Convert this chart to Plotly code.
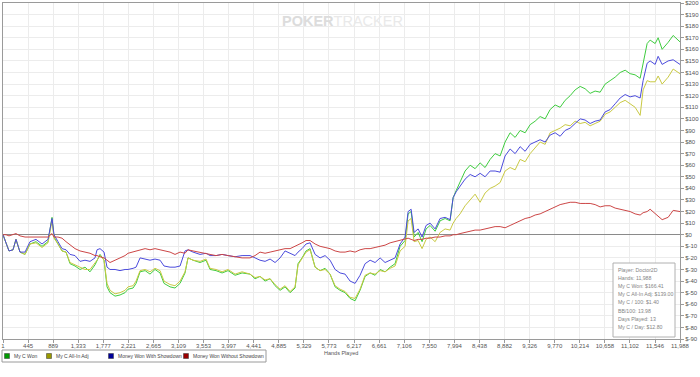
import plotly.graph_objects as go

# ---------------- data ----------------
hands = [1, 54, 107, 178, 231, 302, 391, 479, 585, 692, 798, 869, 904, 975, 1046, 1117,
         1188, 1276, 1365, 1453, 1542, 1630, 1666, 1719, 1790, 1843, 1896, 1985, 2073, 2162,
         2215, 2304, 2357, 2428, 2517, 2604, 2693, 2782, 2852, 2959, 3047, 3136, 3224, 3277,
         3366, 3490, 3596, 3667, 3773, 3880, 3986, 4110, 4234, 4375,
         4464, 4552, 4641, 4730, 4818, 4907, 4995, 5084, 5172, 5225, 5296, 5367, 5438, 5527,
         5615, 5704, 5792, 5881, 5969, 6058, 6146, 6235, 6323, 6412, 6501, 6589, 6678, 6766,
         6855, 6943, 7032, 7120, 7174, 7227, 7280, 7351, 7421, 7492, 7563, 7652, 7740, 7829,
         7917, 7971, 8024, 8094, 8183, 8272, 8360, 8449, 8537, 8626, 8714, 8803, 8891, 8980,
         9069, 9157, 9246, 9334, 9423, 9511, 9600, 9688, 9777, 9866, 9954, 10043, 10131, 10220,
         10308, 10397, 10485, 10574, 10662, 10751, 10840, 10928, 11017, 11105, 11193, 11282,
         11335, 11406, 11459, 11548, 11601, 11672, 11778, 11867, 11988]

my_c_won = [0, -8, -14, -13, -4, -15, -17, -8, -6, -10, -6, 15, -2, -8, -14, -15,
            -25, -27, -30, -28, -32, -26, -22, -17, -22, -45, -50, -53, -52, -50,
            -47, -46, -42, -32, -31, -34, -30, -33, -42, -45, -46, -42, -33, -20,
            -22, -24, -22, -30, -31, -33, -31, -35, -33, -34,
            -38, -36, -40, -38, -44, -48, -45, -50, -46, -25, -20, -14, -12, -28,
            -31, -29, -34, -45, -48, -50, -55, -57, -48, -36, -33, -35, -30, -32,
            -28, -25, -10, -5, 18, 20, -2, 2, -6, 5, 8, 3, 12, 14,
            12, 32, 38, 45, 55, 60, 57, 62, 58, 65, 70, 68, 80, 88,
            84, 90, 88, 95, 98, 102, 100, 108, 112, 110, 116, 120, 125, 128,
            126, 122, 124, 123, 130, 133, 136, 140, 142, 139, 138, 135,
            148, 165, 168, 165, 170, 160, 166, 172, 166.41]

my_c_allin_adj = [0, -8, -14, -13, -4, -15, -17, -8, -7, -11, -7, 12, -3, -8, -14, -15,
                  -24, -26, -28, -30, -30, -25, -22, -18, -22, -42, -48, -51, -50, -48,
                  -45, -44, -40, -31, -30, -32, -29, -31, -40, -43, -44, -40, -32, -20,
                  -22, -23, -21, -29, -30, -32, -30, -34, -32, -34,
                  -37, -36, -39, -38, -43, -47, -44, -49, -45, -26, -21, -15, -13, -28,
                  -31, -30, -34, -44, -47, -49, -54, -55, -47, -35, -33, -34, -31, -32,
                  -29, -27, -14, -10, 12, 14, -6, -5, -12, -4, -2, -6, 2, 5,
                  4, 10, 14, 18, 25, 30, 35, 28, 36, 40, 42, 45, 55, 58,
                  56, 65, 63, 70, 75, 80, 78, 88, 90, 92, 95, 94, 98, 96,
                  97, 94, 96, 98, 104, 106, 110, 114, 116, 113, 110, 103,
                  125, 133, 132, 132, 137, 130, 136, 143, 139]

won_with_showdown = [0, -8, -14, -13, -4, -15, -15, -6, -4, -8, -4, 14, 0, -6, -12, -13,
                     -17, -18, -23, -22, -23, -20, -13, -12, -15, -28, -30, -30, -31, -30,
                     -30, -29, -28, -20, -21, -22, -21, -22, -27, -28, -28, -27, -14, -13,
                     -15, -17, -16, -18, -18, -17, -18, -19, -18, -18,
                     -20, -22, -23, -21, -24, -20, -14, -16, -18, -15, -12, -8, -7, -17,
                     -20, -18, -22, -30, -33, -34, -40, -42, -35, -25, -22, -24, -20, -24,
                     -22, -20, -8, -2, 20, 22, 2, 5, -2, 8, 10, 5, 14, 15,
                     13, 32, 37, 42, 48, 52, 50, 53, 50, 55, 55, 54, 68, 74,
                     70, 76, 72, 78, 80, 82, 80, 86, 88, 85, 90, 92, 96, 100,
                     99, 96, 98, 99, 106, 108, 113, 118, 121, 119, 120, 118,
                     133, 148, 150, 147, 154, 147, 150, 151, 147]

won_without_showdown = [0, 0, -1, 0, 1, -1, -2, -2, -2, -2, -2, 1, -2, -2, -3, -6,
                        -9, -12, -14, -15, -16, -18, -18, -19, -20, -22, -24, -22, -20, -18,
                        -16, -15, -14, -13, -12, -13, -12, -13, -14, -15, -17, -15, -16, -13,
                        -14, -15, -16, -17, -18, -17, -18, -19, -20, -20,
                        -18, -15, -16, -15, -14, -13, -12, -12, -10, -9, -7, -5, -5, -8,
                        -10, -11, -12, -14, -15, -15, -14, -15, -13, -12, -12, -11, -10, -9,
                        -7, -6, -5, -4, -3, -4, -5, -4, -4, -3, -3, -2, -2, -1,
                        -1, 0, 0, 1, 2, 3, 4, 4, 5, 6, 7, 7, 6, 8,
                        10, 12, 14, 15, 17, 18, 20, 22, 24, 26, 27, 28, 28, 27,
                        27, 27, 26, 24, 25, 25, 23, 22, 21, 20, 18, 17,
                        19, 20, 22, 18, 16, 13, 15, 21, 20]

series_names = ["My C Won", "My C All-In Adj", "Money Won With Showdown", "Money Won Without Showdown"]
line_colors = ["#3fcc3f", "#c9c943", "#4b4bdc", "#cc4646"]
legend_colors = ["#009900", "#999900", "#000099", "#990000"]

x_tick_labels = ["1", "445", "889", "1,333", "1,777", "2,221", "2,665", "3,109", "3,553", "3,997",
                 "4,441", "4,885", "5,329", "5,773", "6,217", "6,661", "7,106", "7,550", "7,994",
                 "8,438", "8,882", "9,326", "9,770", "10,214", "10,658", "11,102", "11,546", "11,988"]
y_tick_values = list(range(-90, 201, 10))

stats_lines = ["Player: Doctor2D", "Hands: 11,988", "My C Won: $166.41", "My C All-In Adj: $139.00",
               "My C / 100: $1.40", "BB/100: 13.98", "Days Played: 13", "My C / Day: $12.80"]

# ---------------- figure ----------------
W, H = 700, 377
L, R, T, B = 3, 20, 3, 38
PW, PH = W - L - R, H - T - B


def pxx(p):
    return (p - L) / PW


def pxy(p):
    return (H - B - p) / PH


FONT = "Liberation Sans, Arial, sans-serif"

fig = go.Figure()
all_series = [my_c_won, my_c_allin_adj, won_with_showdown, won_without_showdown]
for name, vals, col in zip(series_names, all_series, line_colors):
    fig.add_trace(go.Scatter(x=hands, y=vals, mode="lines", name=name,
                             line=dict(color=col, width=1), showlegend=False, hoverinfo="skip"))

x_tick_vals = [int(s.replace(",", "")) for s in x_tick_labels]

fig.update_layout(
    width=W, height=H,
    margin=dict(l=L, r=R, t=T, b=B, autoexpand=False),
    paper_bgcolor="white", plot_bgcolor="white",
    font=dict(family=FONT, size=6, color="#555"),
    xaxis=dict(range=[1, 11988], tickvals=x_tick_vals, ticktext=x_tick_labels,
               showgrid=True, gridcolor="#ececec", gridwidth=1, zeroline=False,
               showline=True, linecolor="#9a9a9a", linewidth=1, mirror=True,
               ticks="outside", ticklen=3, tickcolor="#9a9a9a", automargin=False,
               ticklabelstandoff=-2,
               tickfont=dict(family=FONT, size=6, color="#555")),
    yaxis=dict(range=[-90, 200], side="right", tickvals=y_tick_values,
               ticktext=["$" + str(v) for v in y_tick_values],
               showgrid=True, gridcolor="#ececec", gridwidth=1,
               zeroline=True, zerolinecolor="#8a8a8a", zerolinewidth=1,
               showline=True, linecolor="#9a9a9a", linewidth=1, mirror=True,
               ticks="outside", ticklen=3, tickcolor="#9a9a9a", automargin=False,
               tickfont=dict(family=FONT, size=6, color="#555")),
)

annotations = []
shapes = []

# watermark
annotations.append(dict(
    xref="paper", yref="paper", x=pxx(342), y=pxy(21), xanchor="center", yanchor="middle",
    text="<b><span style='color:#dcdcdc'>POKER</span></b><span style='color:#e9e9e9'>TRACKER</span>",
    showarrow=False, font=dict(family="Liberation Sans, Arial", size=14.5)))

# axis title
annotations.append(dict(xref="paper", yref="paper", x=pxx(341), y=pxy(353), xanchor="center",
                        yanchor="middle", text="Hands Played", showarrow=False,
                        font=dict(family=FONT, size=5.5, color="#555")))

# stats box
shapes.append(dict(type="rect", xref="paper", yref="paper", x0=pxx(613), x1=pxx(675),
                   y0=pxy(337), y1=pxy(263), fillcolor="white",
                   line=dict(color="#b0b0b0", width=1), layer="above"))
for i, line in enumerate(stats_lines):
    annotations.append(dict(xref="paper", yref="paper", x=pxx(615.5), y=pxy(270 + 8.1 * i),
                            xanchor="left", yanchor="middle", align="left", text=line,
                            showarrow=False, font=dict(family=FONT, size=5.2, color="#858585")))

# legend
shapes.append(dict(type="rect", xref="paper", yref="paper", x0=pxx(2), x1=pxx(266),
                   y0=pxy(362), y1=pxy(350), fillcolor="rgba(0,0,0,0)",
                   line=dict(color="#9a9a9a", width=1), layer="above"))
marker_x = [7, 49, 111, 186]
for mx, name, col in zip(marker_x, series_names, legend_colors):
    shapes.append(dict(type="rect", xref="paper", yref="paper", x0=pxx(mx - 2.5), x1=pxx(mx + 2.5),
                       y0=pxy(358.5), y1=pxy(353.5), fillcolor=col,
                       line=dict(color="#333", width=0.5), layer="above"))
    annotations.append(dict(xref="paper", yref="paper", x=pxx(mx + 4.5), y=pxy(356),
                            xanchor="left", yanchor="middle", text=name, showarrow=False,
                            font=dict(family=FONT, size=5, color="#444")))

fig.update_layout(annotations=annotations, shapes=shapes)
fig.write_html("out.html", config={"displayModeBar": False},
               post_script="document.body.style.margin='0';document.body.style.padding='0';")
